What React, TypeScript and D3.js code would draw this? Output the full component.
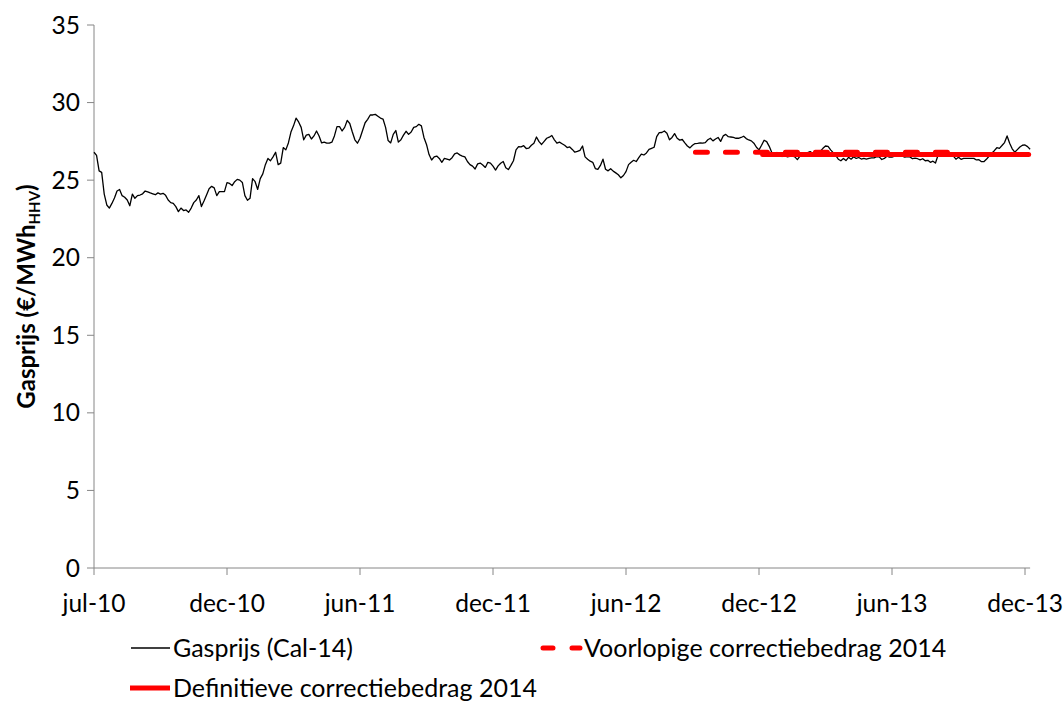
import * as d3 from 'd3';

// Gas price Cal-14 forward (€/MWh HHV), sampled twice a week from 1 jul 2010
const priceStart = '2010-07-01';
const sampleHours = 84;
const gasPrice = [
  26.8, 26.6, 25.6, 25.5, 24.1, 23.4, 23.2, 23.5, 23.85, 24.3,
  24.4, 24.0, 23.9, 23.72, 23.35, 24.1, 23.83, 24.0, 24.04, 24.12,
  24.3, 24.25, 24.18, 24.12, 24.06, 24.18, 24.1, 24.15, 24.02, 23.72,
  23.55, 23.5, 23.29, 22.97, 23.2, 23.04, 23.08, 22.93, 23.2, 23.55,
  23.72, 24.0, 23.3, 23.65, 24.05, 24.45, 24.6, 24.5, 24.0, 24.26,
  24.26, 24.26, 24.84, 24.79, 24.65, 24.9, 25.05, 25.0, 24.85, 24.0,
  23.7, 23.83, 25.1, 24.9, 24.4, 25.1, 25.4, 26.0, 26.4, 26.25,
  26.5, 26.8, 26.0, 26.1, 27.1, 26.95, 27.4, 28.1, 28.5, 28.99,
  28.75, 28.4, 27.6, 27.9, 27.95, 27.65, 27.85, 28.17, 27.85, 27.4,
  27.45, 27.38, 27.38, 27.45, 27.85, 28.45, 28.45, 28.17, 28.4, 28.85,
  28.65, 28.1, 27.6, 27.38, 27.7, 28.2, 28.7, 28.92, 29.2, 29.2,
  29.24, 29.12, 29.0, 28.94, 28.4, 27.55, 27.4, 27.95, 28.2, 27.45,
  27.6, 27.9, 28.15, 27.95, 28.1, 28.4, 28.45, 28.6, 28.5, 27.75,
  27.3, 26.65, 26.3, 26.5, 26.55, 26.4, 26.15, 26.4, 26.36, 26.3,
  26.45, 26.7, 26.75, 26.63, 26.55, 26.5, 26.2, 26.0, 25.9, 25.72,
  26.05, 26.1, 25.98, 25.82, 26.15, 26.1, 25.9, 25.65, 25.92, 26.09,
  26.2, 25.8, 25.68, 25.95, 26.25, 26.95, 27.16, 27.15, 27.22, 27.04,
  27.06, 27.25, 27.38, 27.78, 27.48, 27.3, 27.5, 27.7, 27.77, 27.88,
  27.6, 27.38, 27.45, 27.35, 27.25, 27.1, 27.14, 26.98, 26.8, 26.85,
  26.92, 27.2, 26.5, 26.35, 26.22, 26.15, 25.75, 25.7, 25.95, 26.35,
  25.7, 25.6, 25.74, 25.58, 25.47, 25.35, 25.15, 25.3, 25.55, 26.0,
  26.15, 26.28, 26.2, 26.45, 26.68, 26.62, 26.75, 26.98, 27.05, 27.12,
  27.8, 28.06, 28.07, 28.17, 28.02, 27.6, 27.75, 28.0, 27.7, 27.58,
  27.62, 27.4, 27.2, 27.08, 27.25, 27.36, 27.37, 27.4, 27.38, 27.42,
  27.6, 27.7, 27.53, 27.65, 27.75, 27.5, 27.85, 27.95, 27.8, 27.78,
  27.75, 27.7, 27.7, 27.75, 27.83, 27.68, 27.59, 27.53, 27.38, 27.12,
  26.95, 27.25, 27.57, 27.48, 27.18, 26.78, 26.73, 26.78, 26.62, 26.52,
  26.65, 26.5, 26.54, 26.56, 26.5, 26.32, 26.55, 26.77, 26.73, 26.78,
  26.84, 26.73, 26.73, 26.84, 26.86, 27.05, 27.2, 27.18, 26.95, 26.77,
  26.6, 26.35, 26.25, 26.4, 26.26, 26.47, 26.35, 26.51, 26.4, 26.46,
  26.36, 26.4, 26.35, 26.4, 26.43, 26.44, 26.52, 26.5, 26.33, 26.4,
  26.54, 26.49, 26.49, 26.55, 26.62, 26.62, 26.55, 26.49, 26.52, 26.5,
  26.38, 26.42, 26.38, 26.31, 26.38, 26.25, 26.28, 26.15, 26.22, 26.1,
  26.6, 26.62, 26.6, 26.58, 26.6, 26.58, 26.55, 26.35, 26.47, 26.34,
  26.4, 26.4, 26.4, 26.4, 26.4, 26.3, 26.32, 26.19, 26.2, 26.36,
  26.55, 26.74, 26.9, 27.09, 27.05, 27.23, 27.42, 27.85, 27.38, 27.02,
  26.8, 26.97, 27.14, 27.25, 27.27, 27.16, 26.99,
];

// correction amounts (flat lines over their period)
const voorlopige = { from: '2012-10-01', to: '2013-09-30', value: 26.8 };
const definitieve = { from: '2013-01-01', to: '2013-12-31', value: 26.65 };

const xTickLabels = ['jul-10', 'dec-10', 'jun-11', 'dec-11', 'jun-12', 'dec-12', 'jun-13', 'dec-13'];
const yTicks = [0, 5, 10, 15, 20, 25, 30, 35];

const W = 1063;
const H = 702;
const FONT = 'Lato, sans-serif';
const AXIS = '#868686';

type Pt = { d: Date; v: number };

export default function App() {
  const parse = d3.utcParse('%Y-%m-%d');
  const start = parse(priceStart)!;
  // excel date axis: major unit of 182 days
  const tickDates = xTickLabels.map((_, i) => d3.utcDay.offset(start, 182 * i));

  const x = d3.scaleUtc()
    .domain([start, tickDates[tickDates.length - 1]])
    .range([94, 1025]);
  const y = d3.scaleLinear().domain([0, 35]).range([568, 25]);

  const series: Pt[] = gasPrice.map((v, i) => ({ d: d3.utcHour.offset(start, sampleHours * i), v }));
  const line = d3.line<Pt>()
    .x((p) => x(p.d))
    .y((p) => y(p.v));

  const flat = (c: { from: string; to: string; value: number }) =>
    line([{ d: parse(c.from)!, v: c.value }, { d: parse(c.to)!, v: c.value }]) || '';

  const x0 = x.range()[0];
  const xEnd = x(series[series.length - 1].d);

  return (
    <svg width={W} height={H} style={{ position: 'absolute', left: 0, top: 0, background: '#fff' }}>
      {/* y axis */}
      <line x1={x0} x2={x0} y1={y(35)} y2={y(0)} stroke={AXIS} strokeWidth={1} />
      {yTicks.map((t) => (
        <g key={t}>
          <line x1={x0 - 7} x2={x0} y1={y(t)} y2={y(t)} stroke={AXIS} />
          <text x={80} y={y(t)} dy="0.35em" textAnchor="end" fontFamily={FONT} fontSize={24.5} fill="#000">
            {t}
          </text>
        </g>
      ))}

      {/* x axis */}
      <line x1={x0} x2={xEnd} y1={y(0)} y2={y(0)} stroke={AXIS} />
      {tickDates.map((d, i) => (
        <g key={xTickLabels[i]}>
          <line x1={x(d)} x2={x(d)} y1={y(0)} y2={y(0) + 7} stroke={AXIS} />
          <text x={x(d)} y={612} textAnchor="middle" fontFamily={FONT} fontSize={24.5} fill="#000">
            {xTickLabels[i]}
          </text>
        </g>
      ))}

      {/* axis title */}
      <text
        transform={`translate(35,${(y(0) + y(35)) / 2}) rotate(-90)`}
        textAnchor="middle"
        fontFamily={FONT}
        fontSize={24}
        fontWeight="bold"
        fill="#000"
      >
        Gasprijs (€/MWh
        <tspan fontSize={15} dy={5}>HHV</tspan>
        <tspan dy={-5}>)</tspan>
      </text>

      {/* series */}
      <path d={line(series) || ''} fill="none" stroke="#000" strokeWidth={1.3} strokeLinejoin="round" />
      <path d={flat(voorlopige)} fill="none" stroke="#ff0000" strokeWidth={5} strokeDasharray="12 18" strokeLinecap="round" />
      <path d={flat(definitieve)} fill="none" stroke="#ff0000" strokeWidth={5} strokeLinecap="round" />

      {/* legend */}
      <g fontFamily={FONT} fontSize={25} fill="#000">
        <line x1={131} x2={170} y1={648} y2={648} stroke="#000" strokeWidth={1.4} />
        <text x={173} y={648} dy="0.35em">Gasprijs (Cal-14)</text>
        <line x1={543} x2={580} y1={648} y2={648} stroke="#ff0000" strokeWidth={5} strokeDasharray="10 19" strokeLinecap="round" />
        <text x={584} y={648} dy="0.35em">Voorlopige correctiebedrag 2014</text>
        <line x1={130} x2={170} y1={688} y2={688} stroke="#ff0000" strokeWidth={5} />
        <text x={173} y={688} dy="0.35em">Definitieve correctiebedrag 2014</text>
      </g>
    </svg>
  );
}
